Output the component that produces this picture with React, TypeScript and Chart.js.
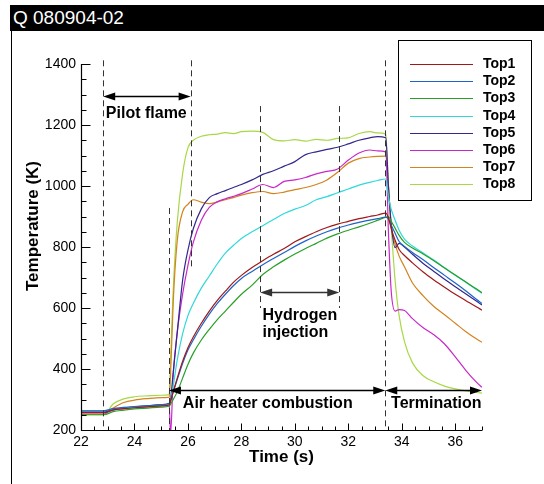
import React, { useEffect, useRef } from "react";
import { Chart, registerables } from "chart.js";

Chart.register(...registerables);

// ---- data -------------------------------------------------------------
const time = [
  22.0, 22.85, 23.2, 23.6, 24.0, 24.5, 25.0, 25.3, 25.35, 25.45, 25.6, 25.8,
  26.0, 26.2, 26.5, 26.8, 27.1, 27.4, 27.7, 28.0, 28.4, 28.8, 29.2, 29.6,
  30.0, 30.4, 30.8, 31.2, 31.6, 32.0, 32.4, 32.8, 33.1, 33.4, 33.5, 33.6,
  33.75, 33.9, 34.1, 34.4, 34.8, 35.2, 35.6, 36.0, 36.4, 36.8, 37.0,
];

const top1 = [
  258, 258, 266, 270, 273, 276, 279, 282, 295, 325, 370, 425, 470, 505, 550,
  590, 625, 655, 684, 707, 733, 755, 776, 795, 817, 834, 850, 864, 875, 884,
  893, 900, 905, 911, 895, 862, 822, 792, 772, 748, 718, 692, 668, 645, 624,
  603, 593,
];
const top2 = [
  263, 263, 270, 274, 277, 280, 283, 287, 297, 325, 365, 418, 462, 495, 540,
  580, 615, 645, 673, 697, 720, 742, 762, 782, 802, 820, 836, 850, 862, 872,
  881, 888, 893, 898, 892, 872, 845, 818, 802, 782, 758, 732, 707, 682, 656,
  628, 615,
];
const top3 = [
  250, 250, 260, 265, 269, 272, 275, 278, 285, 300, 325, 370, 415, 452, 495,
  530, 562, 590, 618, 645, 675, 710, 735, 757, 777, 795, 812, 829, 843, 855,
  866, 878, 888, 898, 900, 885, 862, 838, 815, 797, 777, 755, 731, 708, 685,
  662, 650,
];
const top4 = [
  263, 263, 268, 272, 275, 278, 281, 285, 298, 345, 430, 515, 575, 615, 665,
  705, 745, 780, 805, 828, 850, 870, 890, 910, 924, 936, 955, 965, 978, 990,
  1003, 1012, 1018, 1023, 965, 925, 888, 855, 826, 803, 780, 757, 732, 707,
  684, 660, 648,
];
const top5 = [
  258, 258, 267, 272, 276, 279, 283, 288, 300, 390, 520, 690, 790, 860, 925,
  962, 975, 985, 995, 1005, 1020, 1038, 1050, 1065, 1080, 1103, 1112, 1120,
  1127, 1138, 1150, 1158, 1162, 1158, 1000, 880, 798, 812, 800, 776, 746, 720,
  694, 670, 646, 622, 610,
];
const top6 = [
  256, 256, 265, 270, 274, 277, 280, 284, 185, 380, 520, 645, 740, 815, 888,
  930, 948, 958, 966, 975, 990, 1005, 995, 1015, 1020, 1028, 1040, 1048, 1056,
  1085, 1108, 1118, 1115, 1112, 850, 660, 590, 595, 592, 565, 535, 512, 482,
  440, 395, 356, 340,
];
const top7 = [
  252, 252, 272, 290, 298, 303, 306, 308, 380, 620, 820, 915, 940, 955, 947,
  942, 948, 955, 962, 970, 978, 982, 975, 980, 988, 995, 1005, 1020, 1045,
  1075, 1090, 1095, 1097, 1098, 1000, 870, 810, 770, 735, 682, 640, 605, 578,
  550, 522, 498, 488,
];
const top8 = [
  250, 250, 285, 302, 309, 312, 314, 316, 430, 660, 880, 1040, 1125, 1150,
  1163, 1168, 1170, 1175, 1172, 1178, 1180, 1176, 1152, 1148, 1152, 1147, 1153,
  1150, 1156, 1158, 1172, 1178, 1174, 1170, 1000, 870, 690, 575, 490, 420, 378,
  358, 344, 335, 328, 323, 321,
];

const seriesLabels = ["Top1", "Top2", "Top3", "Top4", "Top5", "Top6", "Top7", "Top8"];
const seriesValues = [top1, top2, top3, top4, top5, top6, top7, top8];
const seriesColors = [
  "#a01818", "#1e64c8", "#28a028", "#30d8d8",
  "#32288c", "#c828c8", "#d2841e", "#a8d848",
];

const xTickLabels = [22, 24, 26, 28, 30, 32, 34, 36];
const yTickLabels = [200, 400, 600, 800, 1000, 1200, 1400];

// phase markers (time, from temperature, to temperature)
const phaseLines = [
  { t: 22.83, from: 200, to: 1412 },
  { t: 26.1, from: 735, to: 1412 },
  { t: 25.29, from: 200, to: 928 },
  { t: 28.7, from: 600, to: 1262 },
  { t: 31.66, from: 600, to: 1262 },
  { t: 33.38, from: 200, to: 1412 },
];
const phaseArrows = [
  { t1: 22.83, t2: 26.1, v: 1295, color: "#000" },
  { t1: 28.7, t2: 31.66, v: 654, color: "#333" },
  { t1: 25.29, t2: 33.38, v: 331, color: "#000" },
  { t1: 33.38, t2: 37.0, v: 331, color: "#000" },
];
const phaseNotes = [
  { text: "Pilot flame", t: 22.93, v: 1239 },
  { text: "Hydrogen", t: 28.79, v: 575 },
  { text: "injection", t: 28.79, v: 521 },
  { text: "Air heater combustion", t: 25.81, v: 285 },
  { text: "Termination", t: 33.6, v: 287 },
];

const FONT = '"Liberation Sans", Arial, Helvetica, sans-serif';

function drawArrow(ctx: CanvasRenderingContext2D, x1: number, x2: number, y: number, color: string) {
  const head = 12;
  const hw = 4;
  ctx.strokeStyle = color;
  ctx.fillStyle = color;
  ctx.lineWidth = 1.5;
  ctx.beginPath();
  ctx.moveTo(x1 + head - 1, y);
  ctx.lineTo(x2 - head + 1, y);
  ctx.stroke();
  ctx.beginPath();
  ctx.moveTo(x1, y);
  ctx.lineTo(x1 + head, y - hw);
  ctx.lineTo(x1 + head, y + hw);
  ctx.closePath();
  ctx.fill();
  ctx.beginPath();
  ctx.moveTo(x2, y);
  ctx.lineTo(x2 - head, y - hw);
  ctx.lineTo(x2 - head, y + hw);
  ctx.closePath();
  ctx.fill();
}

const overlayPlugin = {
  id: "overlay",
  afterDatasetsDraw(chart: any) {
    const { ctx, chartArea: a, scales } = chart;
    const xs = scales.x;
    const ys = scales.y;
    const px = (t: number) => xs.getPixelForValue(t);
    const py = (v: number) => ys.getPixelForValue(v);
    ctx.save();

    // axes
    const L = Math.round(a.left) + 0.5;
    const B = Math.round(a.bottom) + 0.5;
    ctx.strokeStyle = "#000";
    ctx.lineWidth = 1.2;
    ctx.beginPath();
    ctx.moveTo(L, Math.round(a.top));
    ctx.lineTo(L, B);
    ctx.lineTo(Math.round(a.right), B);
    ctx.stroke();
    ctx.lineWidth = 1;
    ctx.beginPath();
    for (let t = xs.min; t <= xs.max + 1e-6; t += 0.5) {
      const major = xTickLabels.some((v) => Math.abs(v - t) < 1e-6);
      const X = Math.round(px(t)) + 0.5;
      ctx.moveTo(X, B);
      ctx.lineTo(X, B - (major ? 7 : 4));
    }
    for (let v = ys.min; v <= ys.max + 1e-6; v += 50) {
      const major = yTickLabels.some((w) => Math.abs(w - v) < 1e-6);
      const Y = Math.round(py(v)) + 0.5;
      ctx.moveTo(L, Y);
      ctx.lineTo(L + (major ? 9 : 5), Y);
    }
    ctx.stroke();

    // dashed phase lines
    ctx.setLineDash([6, 4]);
    ctx.strokeStyle = "#333";
    ctx.lineWidth = 1;
    for (const l of phaseLines) {
      const X = Math.round(px(l.t)) + 0.5;
      ctx.beginPath();
      ctx.moveTo(X, py(l.to));
      ctx.lineTo(X, py(l.from));
      ctx.stroke();
    }
    ctx.setLineDash([]);

    // arrows
    for (const ar of phaseArrows) {
      drawArrow(ctx, px(ar.t1), px(ar.t2), Math.round(py(ar.v)) + 0.5, ar.color);
    }

    // notes
    ctx.fillStyle = "#000";
    ctx.textAlign = "left";
    ctx.textBaseline = "middle";
    ctx.font = `bold 16px ${FONT}`;
    for (const n of phaseNotes) {
      ctx.fillText(n.text, px(n.t), py(n.v));
    }

    // axis titles
    ctx.font = `bold 17px ${FONT}`;
    ctx.textAlign = "center";
    ctx.fillText("Time (s)", (a.left + a.right) / 2, 457);
    ctx.save();
    ctx.translate(33, (a.top + a.bottom) / 2 - 21);
    ctx.rotate(-Math.PI / 2);
    ctx.fillText("Temperature (K)", 0, 0);
    ctx.restore();

    // legend
    const bx = 398.5, by = 40.5, bw = 133, bh = 160;
    ctx.fillStyle = "#fff";
    ctx.fillRect(bx, by, bw, bh);
    ctx.strokeStyle = "#000";
    ctx.lineWidth = 1;
    ctx.strokeRect(bx, by, bw, bh);
    ctx.font = `bold 14px ${FONT}`;
    ctx.textAlign = "left";
    ctx.textBaseline = "middle";
    chart.data.datasets.forEach((ds: any, i: number) => {
      const y = Math.round(64 + i * 17.2) + 0.5;
      ctx.strokeStyle = ds.borderColor;
      ctx.lineWidth = 1.2;
      ctx.beginPath();
      ctx.moveTo(410, y);
      ctx.lineTo(473, y);
      ctx.stroke();
      ctx.fillStyle = "#000";
      ctx.fillText(ds.label, 483, y);
    });

    ctx.restore();
  },
};

export default function App() {
  const ref = useRef<HTMLCanvasElement>(null);

  useEffect(() => {
    if (!ref.current) return;
    Chart.defaults.font.family = FONT;
    const chart = new Chart(ref.current, {
      type: "line",
      data: {
        datasets: seriesValues.map((vals, i) => ({
          label: seriesLabels[i],
          data: time.map((t, j) => ({ x: t, y: vals[j] })),
          borderColor: seriesColors[i],
          backgroundColor: seriesColors[i],
          borderWidth: 1.2,
          pointRadius: 0,
          fill: false,
          cubicInterpolationMode: "monotone",
        })),
      },
      options: {
        responsive: false,
        animation: false,
        devicePixelRatio: 1,
        layout: { padding: { left: 0, right: 62, top: 64, bottom: 0 } },
        plugins: { legend: { display: false }, tooltip: { enabled: false }, title: { display: false } },
        scales: {
          x: {
            type: "linear",
            min: 22,
            max: 37,
            afterBuildTicks: (s: any) => {
              s.ticks = xTickLabels.map((v) => ({ value: v }));
            },
            ticks: {
              color: "#000",
              font: { size: 14, family: FONT },
              padding: 4,
              maxRotation: 0,
              autoSkip: false,
              callback: (v: any) => String(v),
            },
            grid: { display: false, drawTicks: false },
            border: { display: false },
            afterFit: (s: any) => {
              s.height = 54;
            },
          },
          y: {
            type: "linear",
            min: 200,
            max: 1400,
            afterBuildTicks: (s: any) => {
              s.ticks = yTickLabels.map((v) => ({ value: v }));
            },
            ticks: {
              color: "#000",
              font: { size: 14, family: FONT },
              padding: 5,
              autoSkip: false,
              callback: (v: any) => String(v),
            },
            grid: { display: false, drawTicks: false },
            border: { display: false },
            afterFit: (s: any) => {
              s.width = 81;
            },
          },
        },
      },
      plugins: [overlayPlugin],
    } as any);
    return () => chart.destroy();
  }, []);

  return (
    <div
      style={{
        position: "fixed",
        left: 0,
        top: 0,
        width: 544,
        height: 484,
        background: "#fff",
        overflow: "hidden",
      }}
    >
      <div
        style={{
          position: "absolute",
          left: 10,
          top: 5,
          width: 534,
          height: 26,
          background: "#000",
          color: "#fff",
          font: `19px ${FONT}`,
          lineHeight: "26px",
          paddingLeft: 3,
          boxSizing: "border-box",
          whiteSpace: "nowrap",
        }}
      >
        Q 080904-02
      </div>
      <div
        style={{
          position: "absolute",
          left: 11,
          top: 31,
          width: 1,
          height: 453,
          background: "#000",
        }}
      />
      <canvas
        ref={ref}
        width={544}
        height={484}
        style={{ position: "absolute", left: 0, top: 0, width: 544, height: 484 }}
      />
    </div>
  );
}
